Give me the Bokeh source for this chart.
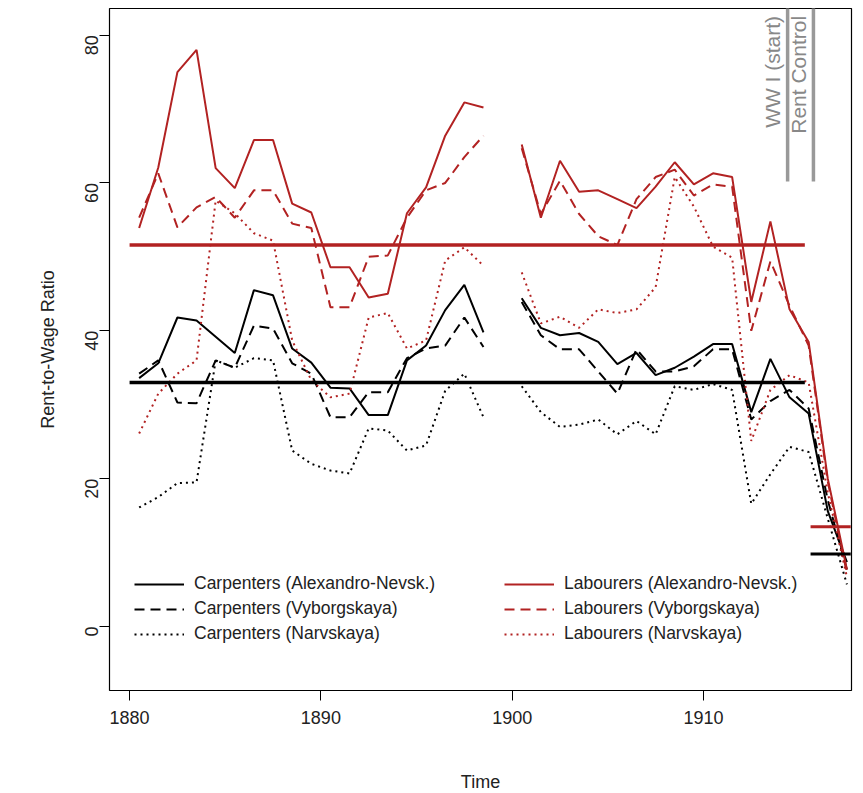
import math
import numpy as np
from bokeh.plotting import figure
from bokeh.models import Legend, LegendItem, FixedTicker, Range1d
from bokeh.core.properties import value
from bokeh.embed import file_html
from bokeh.resources import INLINE

nan = float("nan")
years = list(np.arange(1880.5, 1899.0, 1.0)) + [1899.5] + list(np.arange(1900.5, 1918.0, 1.0))

carp_an = [33.6, 35.6, 41.8, 41.4, 39.2, 37, 45.5, 44.8, 37.6, 35.7, 32.3, 32.2, 28.6, 28.6, 36, 38, 42.8, 46.2, 39.8,
           nan,
           44.4, 40.4, 39.4, 39.7, 38.5, 35.5, 37, 34, 35, 36.5, 38.2, 38.2, 29, 36.2, 31, 28.8, 15.6, 8.7]
carp_vy = [34.2, 36, 30.3, 30.2, 36, 35, 40.7, 40.3, 35.6, 34.2, 28.3, 28.3, 31.7, 31.7, 36.3, 37.6, 38, 41.8, 37.8,
           nan,
           43.9, 39.4, 37.5, 37.5, 34.5, 31.5, 37.5, 34.5, 34.5, 35.2, 37.5, 37.5, 28, 30.5, 32, 29.5, 17.1, 7.7]
carp_na = [16.1, 17.5, 19.4, 19.5, 36, 35, 36.3, 36, 23.8, 22, 21.1, 20.7, 26.8, 26.5, 23.8, 24.5, 31.9, 34.2, 28.3,
           nan,
           32.5, 29, 27, 27.3, 28, 26, 27.8, 26, 32.5, 32, 32.8, 32, 16.6, 20.6, 24.3, 23.6, 14.6, 5.7]
lab_an = [53.9, 62.1, 75, 78, 62, 59.3, 65.8, 65.8, 57.2, 56, 48.6, 48.6, 44.5, 45, 55.9, 59.4, 66.4, 70.9, 70.2,
          nan,
          65.2, 55.3, 63, 58.8, 59, 57.8, 56.6, 59.5, 62.8, 59.8, 61.3, 60.8, 43.9, 54.8, 42.9, 38.5, 20, 7.7]
lab_vy = [55.3, 61.3, 54, 56.7, 58.1, 55.3, 59, 59, 54.5, 53.9, 43.2, 43.2, 50, 50.2, 55.3, 59, 60, 63.5, 66.4,
          nan,
          64.7, 55.8, 60.3, 55.8, 52.8, 51.6, 57.8, 60.8, 61.8, 58.3, 59.8, 59.5, 40, 49.4, 43.4, 38, 19.6, 7.2]
lab_na = [26.1, 31.5, 34.2, 36, 57.6, 55.9, 53.2, 52.2, 38.7, 33.3, 31, 31.5, 41.8, 42.4, 37.6, 38.7, 49.5, 51.3, 48.8,
          nan,
          47.9, 41, 41.9, 40.4, 42.9, 42.4, 42.9, 45.9, 60.8, 56.8, 51.4, 49.9, 25.1, 32, 34, 33, 18.1, 6.7]

mean_span = [1880, 1915.3]
carp_mean, lab_mean = 33.0, 51.6
late_span = [1915.6, 1917.7]
carp_late, lab_late = 9.8, 13.5
events = [1914.4, 1915.75]
event_labels = ["WW I (start)", "Rent Control"]

RED = "#b22222"
FONT = "Liberation Sans"

p = figure(frame_width=742, frame_height=682, min_border_left=109, min_border_top=8,
           min_border_right=3, min_border_bottom=95, output_backend="svg",
           toolbar_location=None, tools="")
p.x_range = Range1d(1878.95, 1917.74)
p.y_range = Range1d(-8.66, 83.6)
p.grid.visible = False
p.outline_line_color = "black"
p.outline_line_width = 1.2
p.background_fill_color = "white"
p.border_fill_color = "white"

for ax in (p.xaxis, p.yaxis):
    ax.axis_line_color = None
    ax.major_tick_line_color = "black"
    ax.major_tick_out = 10
    ax.major_tick_in = 0
    ax.minor_tick_line_color = None
    ax.major_label_text_font = FONT
    ax.major_label_text_font_size = "18px"
    ax.major_label_text_color = "#222222"
    ax.axis_label_text_font = FONT
    ax.axis_label_text_font_size = "18px"
    ax.axis_label_text_font_style = "normal"
    ax.axis_label_text_color = "#222222"
p.xaxis.ticker = FixedTicker(ticks=[1880, 1890, 1900, 1910])
p.yaxis.ticker = FixedTicker(ticks=[0, 20, 40, 60, 80])
p.yaxis.major_label_orientation = math.pi / 2
p.yaxis.major_label_standoff = 8
p.xaxis.axis_label = "Time"
p.yaxis.axis_label = "Rent-to-Wage Ratio"
p.xaxis.axis_label_standoff = 45
p.yaxis.axis_label_standoff = 18
p.xaxis.major_label_standoff = 10

series = [
    ("Carpenters (Alexandro-Nevsk.)", carp_an, "black", "solid"),
    ("Carpenters (Vyborgskaya)", carp_vy, "black", "10 6"),
    ("Carpenters (Narvskaya)", carp_na, "black", "2 4"),
    ("Labourers (Alexandro-Nevsk.)", lab_an, RED, "solid"),
    ("Labourers (Vyborgskaya)", lab_vy, RED, "10 6"),
    ("Labourers (Narvskaya)", lab_na, RED, "2 4"),
]
renderers = []
for name, vals, col, dash in series:
    r = p.line(years, vals, line_color=col, line_width=2, line_dash=dash)
    renderers.append((name, r))

p.line(mean_span, [carp_mean] * 2, line_color="black", line_width=3.5)
p.line(mean_span, [lab_mean] * 2, line_color=RED, line_width=3.5)
p.line(late_span, [carp_late] * 2, line_color="black", line_width=3)
p.line(late_span, [lab_late] * 2, line_color=RED, line_width=3)

for ev, lab in zip(events, event_labels):
    p.segment(x0=[ev], y0=[60.2], x1=[ev], y1=[90], line_color="#999999", line_width=3.5)
    p.text(x=[ev - 0.2], y=[82.6], text=[lab], angle=math.pi / 2, text_align="right",
           text_baseline="bottom", text_color="#888888", text_font=value(FONT),
           text_font_size="21px")

def make_legend(items, loc):
    lg = Legend(items=[LegendItem(label=n, renderers=[r]) for n, r in items], location=loc)
    lg.border_line_color = None
    lg.background_fill_alpha = 0
    lg.padding = 0
    lg.margin = 0
    lg.spacing = 4
    lg.glyph_width = 50
    lg.label_height = 20
    lg.glyph_height = 20
    lg.label_standoff = 10
    lg.label_text_font = FONT
    lg.label_text_font_size = "17.5px"
    lg.label_text_color = "#222222"
    return lg

p.add_layout(make_legend(renderers[:3], (25, 46)))
p.add_layout(make_legend(renderers[3:], (395, 46)))

open("out.html", "w").write(file_html(p, INLINE))
